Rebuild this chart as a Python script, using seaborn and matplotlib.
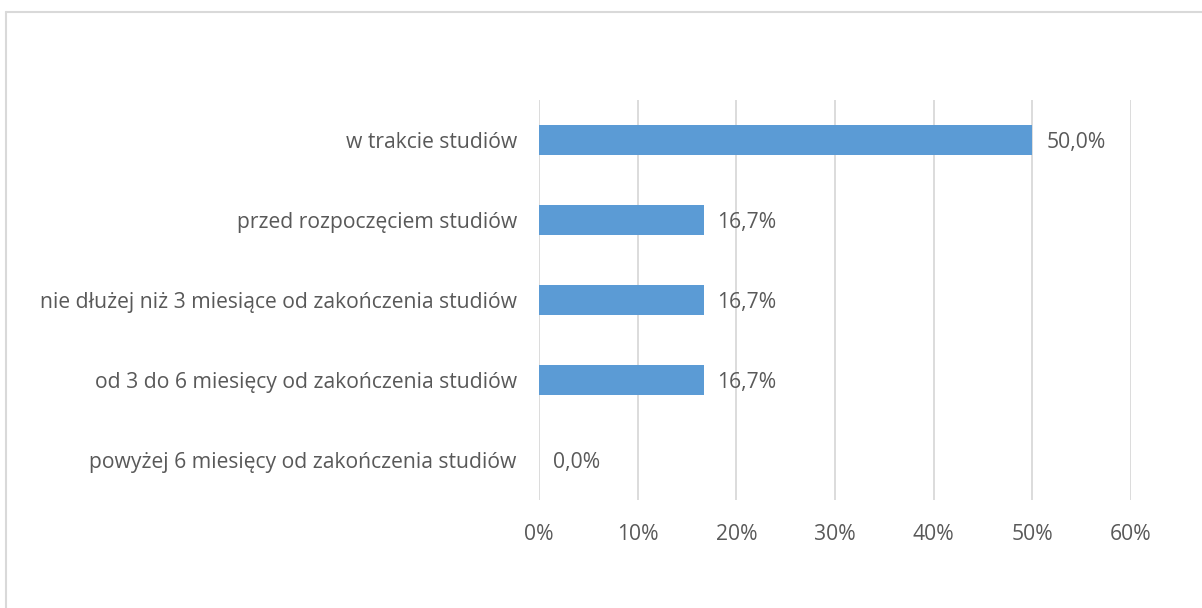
import matplotlib
matplotlib.use("Agg")
import matplotlib.pyplot as plt
import matplotlib.lines as mlines
import seaborn as sns
import pandas as pd

# data
categories = [
    "w trakcie studiów",
    "przed rozpoczęciem studiów",
    "nie dłużej niż 3 miesiące od zakończenia studiów",
    "od 3 do 6 miesięcy od zakończenia studiów",
    "powyżej 6 miesięcy od zakończenia studiów",
]
values = [50.0, 16.7, 16.7, 16.7, 0.0]
x_ticks = [0, 10, 20, 30, 40, 50, 60]

df = pd.DataFrame({"kategoria": categories, "procent": values})

sns.set_theme(style="white")
plt.rcParams["font.family"] = ["Open Sans", "DejaVu Sans"]
text_color = "#595959"
bar_color = "#5B9BD5"
grid_color = "#D9D9D9"
fs = 15.2

fig = plt.figure(figsize=(12.02, 6.08), dpi=100)
ax = fig.add_axes([539 / 1202, 1 - 500 / 608, (1131 - 539) / 1202, 400 / 608])

sns.barplot(data=df, x="procent", y="kategoria", color=bar_color,
            width=0.375, saturation=1, linewidth=0, ax=ax, zorder=3)

ax.set_xlim(0, 60)
ax.set_ylim(4.5, -0.5)
ax.set_xticks(x_ticks)
ax.set_xticklabels([f"{t}%" for t in x_ticks])
ax.grid(axis="x", color=grid_color, linewidth=1.3, zorder=0)
for s in ax.spines.values():
    s.set_visible(False)
ax.tick_params(axis="x", length=0, pad=17, labelsize=fs, colors=text_color)
ax.tick_params(axis="y", length=0, pad=16, labelsize=fs, colors=text_color)
ax.set_xlabel("")
ax.set_ylabel("")

for i, v in enumerate(values):
    ax.text(v + 1.4, i, f"{v:.1f}%".replace(".", ","), va="center_baseline", ha="left",
            fontsize=fs, color=text_color)

# outer chart frame (only top and left edges visible in the reference)
fig.add_artist(mlines.Line2D([6 / 1202, 6 / 1202], [0, 1 - 12 / 608],
                             transform=fig.transFigure, color=grid_color, linewidth=1.5))
fig.add_artist(mlines.Line2D([6 / 1202, 1], [1 - 12 / 608, 1 - 12 / 608],
                             transform=fig.transFigure, color=grid_color, linewidth=1.5))

fig.savefig("out.png", dpi=100, facecolor="white")
